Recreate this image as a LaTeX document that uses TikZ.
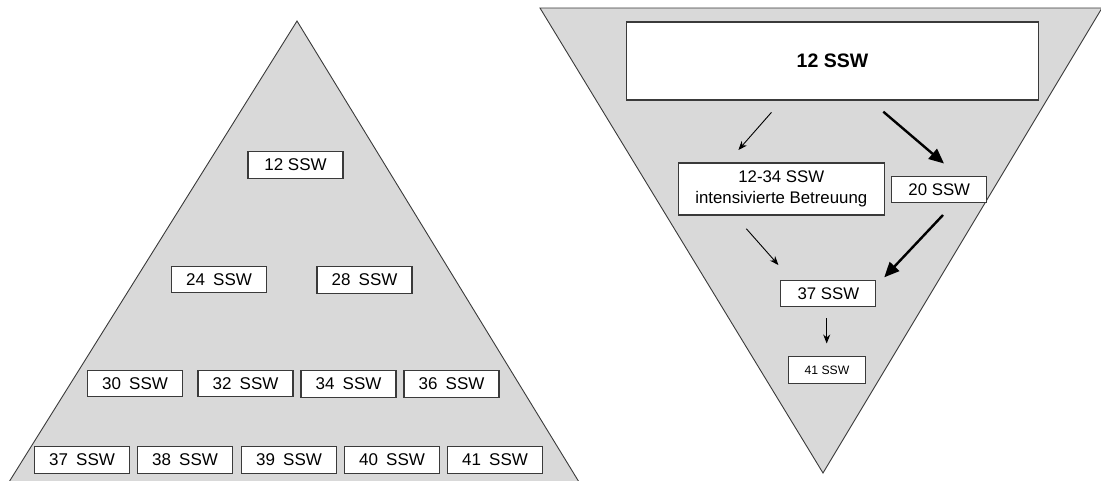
\documentclass[tikz,border=0pt]{standalone}
\usepackage{fontspec}
\setmainfont{Liberation Sans}
\usetikzlibrary{arrows.meta}
\definecolor{tri}{HTML}{D9D9D9}
\definecolor{edge}{HTML}{3A3A3A}
\newcommand{\gapw}{\hspace{3.5pt}}
\begin{document}
\begin{tikzpicture}[x=1pt,y=-1pt,
  wk/.style={draw=edge,line width=1.1pt,fill=white,inner sep=0pt,
    minimum width=95pt,minimum height=26.5pt,font=\fontsize{17}{20}\selectfont},
  thinarrow/.style={draw=black,line width=0.9pt,-{Stealth[length=9pt,width=7pt]}},
  thickarrow/.style={draw=black,line width=2.4pt,-{Triangle[length=15pt,width=13pt]}}]
\useasboundingbox (0,0) rectangle (1101,480);
% pyramids
\draw[draw=edge,line width=0.9pt,fill=tri] (9,482) -- (297,21) -- (579,482);
\draw[draw=edge,line width=0.9pt,fill=tri] (540,8) -- (1102,8) -- (823,473) -- cycle;
% left pyramid boxes
\node[wk] (l12) at (295.5,165) {12 SSW};
\node[wk] (l24) at (219,279.5) {24 \gapw SSW};
\node[wk] (l28) at (364.5,280) {28 \gapw SSW};
\node[wk] (l30) at (135,383.5) {30 \gapw SSW};
\node[wk] (l32) at (245.5,383.5) {32 \gapw SSW};
\node[wk] (l34) at (348.5,384) {34 \gapw SSW};
\node[wk] (l36) at (451.5,384) {36 \gapw SSW};
\node[wk] (l37) at (82,460) {37 \gapw SSW};
\node[wk] (l38) at (185,460) {38 \gapw SSW};
\node[wk] (l39) at (289,460) {39 \gapw SSW};
\node[wk] (l40) at (392,460) {40 \gapw SSW};
\node[wk] (l41) at (495,460) {41 \gapw SSW};
% right pyramid boxes
\node[wk,minimum width=412pt,minimum height=78pt,font=\fontsize{19.5}{23}\selectfont\bfseries] (r12) at (832.5,61) {12 SSW};
\node[wk,minimum width=206pt,minimum height=52pt,align=center,font=\fontsize{16.8}{20.5}\selectfont] (r1234) at (781.3,189) {12-34 SSW\\intensivierte Betreuung};
\node[wk,minimum height=26pt,font=\fontsize{16.8}{20}\selectfont] (r20) at (939.3,189.5) {20 SSW};
\node[wk,minimum height=26.5pt,font=\fontsize{16.8}{20}\selectfont] (r37) at (828.4,293.3) {37 SSW};
\node[wk,minimum width=77pt,minimum height=26.5pt,font=\fontsize{12.2}{14}\selectfont] (r41) at (827,370) {41 SSW};
% arrow end points
\coordinate (a1s) at (771.5,112.3);
\coordinate (a1e) at (738.4,150);
\coordinate (a2s) at (883.3,111.7);
\coordinate (a2e) at (944,163.5);
\coordinate (a3s) at (746.3,228.7);
\coordinate (a3e) at (778.4,265);
\coordinate (a4s) at (943,215);
\coordinate (a4e) at (884.3,277.3);
\coordinate (a5s) at (826.7,318.3);
\coordinate (a5e) at (826.7,343.5);
\draw[thinarrow] (a1s) -- (a1e);
\draw[thickarrow] (a2s) -- (a2e);
\draw[thinarrow] (a3s) -- (a3e);
\draw[thickarrow] (a4s) -- (a4e);
\draw[thinarrow] (a5s) -- (a5e);
\end{tikzpicture}
\end{document}
